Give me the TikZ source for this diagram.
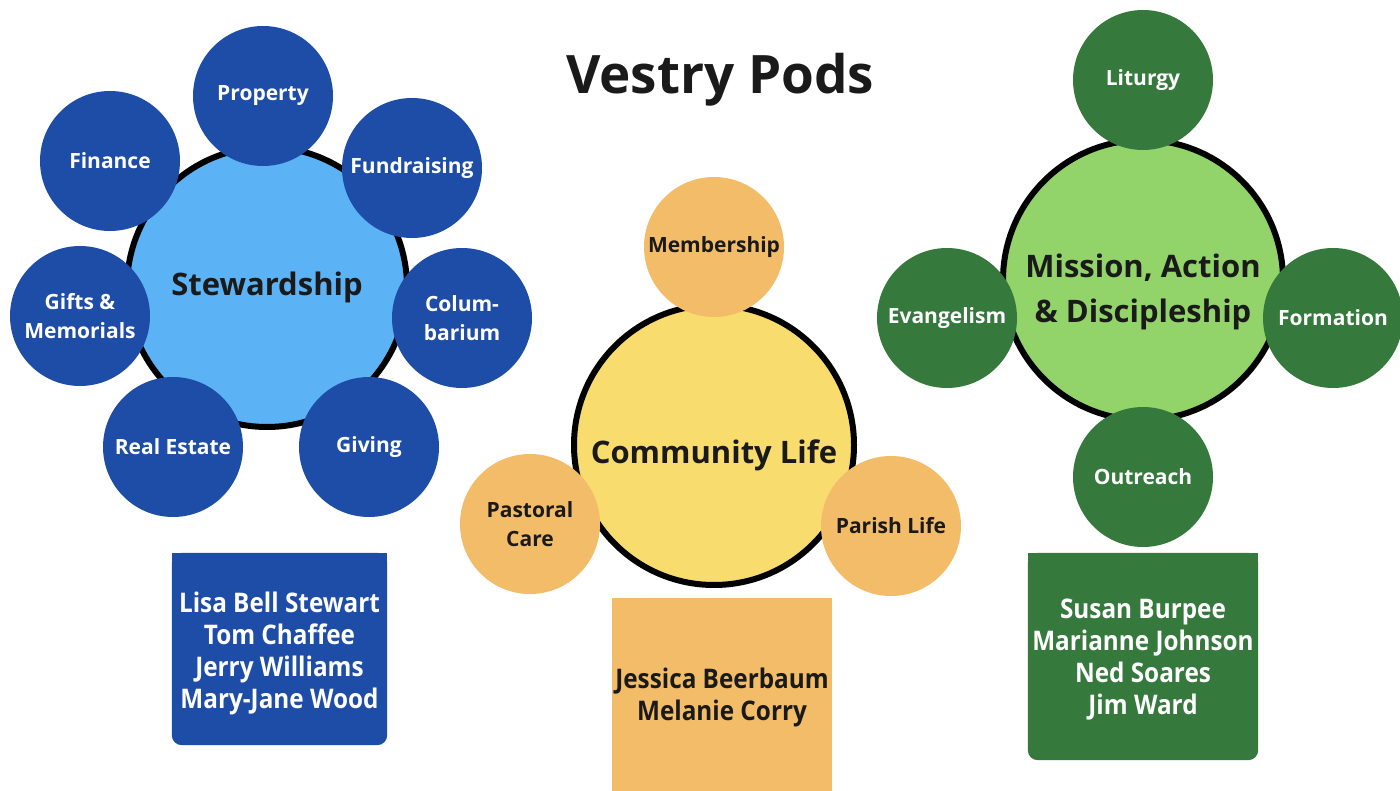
\documentclass[tikz,border=0pt]{standalone}
\usepackage{fontspec}
\setmainfont{Open Sans}
\newfontfamily\namefont{Open Sans}[FakeStretch=0.9]
\usetikzlibrary{backgrounds}
\definecolor{stewdark}{HTML}{1E4DA8}
\definecolor{stewlight}{HTML}{5BB3F5}
\definecolor{commdark}{HTML}{F2BC68}
\definecolor{commlight}{HTML}{F8DC6E}
\definecolor{missdark}{HTML}{357A3C}
\definecolor{misslight}{HTML}{92D46A}
\definecolor{ink}{HTML}{1A1A1A}
\tikzset{
  hub/.style={circle,draw=black,line width=6pt,minimum size=280pt,inner sep=0pt},
  hubtext/.style={font=\fontsize{31}{45}\selectfont\bfseries,align=center,text=ink},
  leaf/.style={circle,minimum size=140pt,inner sep=0pt,align=center,
    font=\fontsize{21}{29}\selectfont\bfseries},
  namebox/.style={minimum width=215pt,minimum height=192pt,inner sep=0pt,align=center,
    font=\namefont\fontsize{27}{32}\selectfont\bfseries},
}
\begin{document}
\begin{tikzpicture}[x=1pt,y=-1pt]
    \useasboundingbox (0,0) rectangle (1400,791);
    \node[font=\fontsize{53}{60}\selectfont\bfseries,text=ink] (title) at (720,80) {Vestry Pods};
    % stewardship
    \node[hub,fill=stewlight] (st) at (267,287) {};
    \node[hubtext] (sttext) at (st.center) {Stewardship};
    \node[leaf,fill=stewdark,text=white] (st1) at (263,96) {Property};
    \node[leaf,fill=stewdark,text=white] (st2) at (412,168) {Fundraising};
    \node[leaf,fill=stewdark,text=white] (st3) at (462,318) {Colum-\\barium};
    \node[leaf,fill=stewdark,text=white] (st4) at (369,447) {Giving};
    \node[leaf,fill=stewdark,text=white] (st5) at (173,447) {Real Estate};
    \node[leaf,fill=stewdark,text=white] (st6) at (80,316) {Gifts \&\\Memorials};
    \node[leaf,fill=stewdark,text=white] (st7) at (110,161) {Finance};
    \node[namebox,text=white] (stnames) at (279.5,649) {};
    \node[namebox,minimum size=0pt,text=white] (stlist) at ([yshift=-4pt]stnames.center)
      {Lisa Bell Stewart\\Tom Chaffee\\Jerry Williams\\Mary-Jane Wood};
    % community life
    \node[hub,fill=commlight] (cl) at (714,445) {};
    \node[hubtext] (cltext) at ([yshift=-10pt]cl.center) {Community Life};
    \node[leaf,fill=commdark,text=ink] (cl1) at (714,247) {Membership};
    \node[leaf,fill=commdark,text=ink] (cl2) at (530,524) {Pastoral\\Care};
    \node[leaf,fill=commdark,text=ink] (cl3) at (891,526) {Parish Life};
    \node[namebox,minimum width=220pt,minimum height=193pt] (clnames) at (722,694.5) {};
    \node[namebox,minimum size=0pt,text=ink] (cllist) at ([yshift=-3pt]clnames.center)
      {Jessica Beerbaum\\Melanie Corry};
    % mission
    \node[hub,fill=misslight] (md) at (1143,280) {};
    \node[hubtext] (mdtext) at ([yshift=-12pt]md.center) {Mission, Action\\\& Discipleship};
    \node[leaf,fill=missdark,text=white] (md1) at (1143,80) {Liturgy};
    \node[leaf,fill=missdark,text=white] (md2) at (947,318) {Evangelism};
    \node[leaf,fill=missdark,text=white] (md3) at (1333,318) {Formation};
    \node[leaf,fill=missdark,text=white] (md4) at (1143,477) {Outreach};
    \node[namebox,minimum width=230pt,minimum height=207pt] (mdnames) at (1143,656.5) {};
    \node[namebox,minimum size=0pt,text=white] (mdlist) at ([yshift=-3pt]mdnames.center)
      {Susan Burpee\\Marianne Johnson\\Ned Soares\\Jim Ward};
    \begin{scope}[on background layer]
      \fill[white] (0,0) rectangle (1400,791);
      \fill[stewdark,rounded corners=10pt] (stnames.north west) rectangle (stnames.south east);
      \fill[stewdark] (stnames.north west) rectangle (stnames.east);
      \fill[commdark] (clnames.north west) rectangle (clnames.south east);
      \fill[missdark,rounded corners=10pt] (mdnames.north west) rectangle (mdnames.south east);
      \fill[missdark] (mdnames.north west) rectangle (mdnames.east);
    \end{scope}
\end{tikzpicture}
\end{document}
